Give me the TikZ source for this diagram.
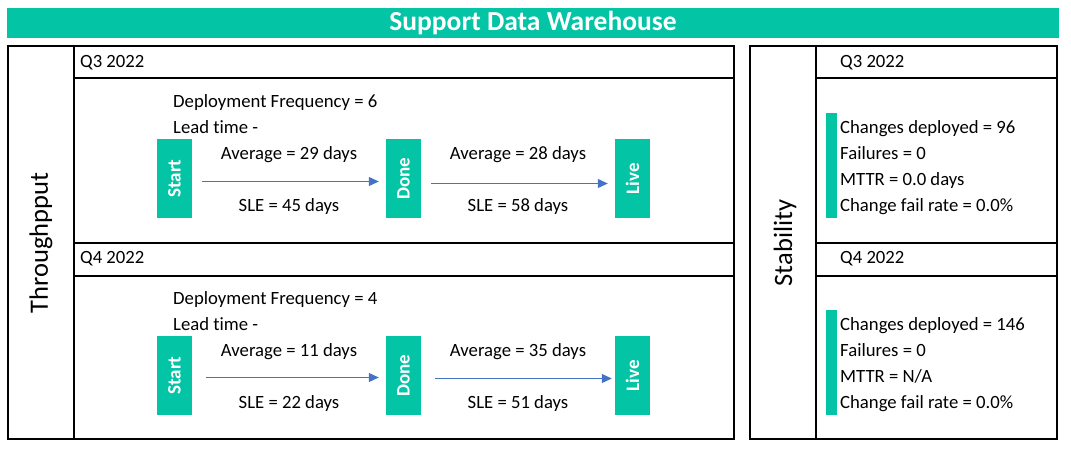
\documentclass[tikz,border=0pt]{standalone}
\usepackage{fontspec}
\setmainfont{Carlito}[Ligatures={NoCommon}]
\usetikzlibrary{arrows.meta,positioning,calc}
\definecolor{tealfill}{HTML}{04C4A6}
\definecolor{flowblue}{HTML}{4472C4}

\begin{document}
\begin{tikzpicture}[
    x=1pt, y=-1pt,
    frame/.style={draw=black, line width=2pt},
    txt/.style={font=\fontsize{18.7}{22}\selectfont, inner sep=0pt, anchor=base west},
    midtxt/.style={txt, anchor=base},
    sidelabel/.style={font=\fontsize{26.5}{30}\selectfont, inner sep=0pt, rotate=90},
    stagebox/.style={
        rectangle, fill=tealfill, inner sep=0pt,
        minimum width=79pt, minimum height=35pt,
        text=white, font=\fontsize{19}{22}\selectfont\bfseries,
        rotate=90,
    },
    barbox/.style={rectangle, fill=tealfill, inner sep=0pt, minimum width=11pt},
    flow/.style={-{Triangle[length=10pt,width=9pt]}, line width=1pt, color=flowblue,
        shorten <=10pt, shorten >=7pt},
]

\useasboundingbox (0,0) rectangle (1071,450);

% Title bar
\node[fill=tealfill, minimum width=1052pt, minimum height=30pt, inner sep=0pt,
      text=white, font=\fontsize{27.5}{30}\selectfont\bfseries] (title) at (533,23)
    {Support Data Warehouse};

% Left panel: throughput grid
\draw[frame] (8,46) rectangle (734,439);
\draw[frame] (74,46) -- (74,439);
\draw[frame] (74,78) -- (734,78);
\draw[frame] (74,243) -- (734,243);
\draw[frame] (74,276) -- (734,276);

% Right panel: stability grid
\draw[frame] (750,46) rectangle (1057,439);
\draw[frame] (816,46) -- (816,439);
\draw[frame] (816,78) -- (1057,78);
\draw[frame] (816,243) -- (1057,243);
\draw[frame] (816,276) -- (1057,276);

% Side labels
\node[sidelabel] (thru) at (41,243) {Throughpput};
\node[sidelabel] (stab) at (785,243) {Stability};

% Q3 2022 -- throughput
\node[txt] (q3) at (80,67) {Q3 2022};
\node[txt] (freq3) at (173,107) {Deployment Frequency = 6};
\node[txt] (lead3) at (173,133) {Lead time -};

\node[stagebox] (start3) at (174.5,178.5) {Start};
\node[stagebox] (done3) at (403.5,178.5) {Done};
\node[stagebox] (live3) at (632.5,178.5) {Live};

\node[midtxt] (avg3a) at (289,159) {Average = 29 days};
\node[midtxt] (sle3a) at (289,211) {SLE = 45 days};
\node[midtxt] (avg3b) at (518,159) {Average = 28 days};
\node[midtxt] (sle3b) at (518,211) {SLE = 58 days};

\draw[flow] ([yshift=-3pt]start3.south) -- ([yshift=-3pt]done3.north);
\draw[flow] ([yshift=-5pt]done3.south) -- ([yshift=-5pt]live3.north);

% Q4 2022 -- throughput
\node[txt] (q4) at (80,263) {Q4 2022};
\node[txt] (freq4) at (173,304) {Deployment Frequency = 4};
\node[txt] (lead4) at (173,330) {Lead time -};

\node[stagebox] (start4) at (174.5,375.5) {Start};
\node[stagebox] (done4) at (403.5,375.5) {Done};
\node[stagebox] (live4) at (632.5,375.5) {Live};

\node[midtxt] (avg4a) at (289,356) {Average = 11 days};
\node[midtxt] (sle4a) at (289,408) {SLE = 22 days};
\node[midtxt] (avg4b) at (518,356) {Average = 35 days};
\node[midtxt] (sle4b) at (518,408) {SLE = 51 days};

\draw[flow, shorten <=14pt] ([yshift=-2pt]start4.south) -- ([yshift=-2pt]done4.north);
\draw[flow, shorten <=14pt, shorten >=3pt] ([yshift=-3pt]done4.south) -- ([yshift=-3pt]live4.north);

% Stability -- Q3 2022
\node[txt] (sq3) at (840,67) {Q3 2022};
\node[barbox, minimum height=105pt] (bar3) at (831.5,165.5) {};
\node[txt] (chg3) at (840,133) {Changes deployed = 96};
\node[txt] (fail3) at (840,159) {Failures = 0};
\node[txt] (mttr3) at (840,185) {MTTR = 0.0 days};
\node[txt] (cfr3) at (840,211) {Change fail rate = 0.0\%};

% Stability -- Q4 2022
\node[txt] (sq4) at (840,263) {Q4 2022};
\node[barbox, minimum height=105pt] (bar4) at (831.5,362.5) {};
\node[txt] (chg4) at (840,330) {Changes deployed = 146};
\node[txt] (fail4) at (840,356) {Failures = 0};
\node[txt] (mttr4) at (840,382) {MTTR = N/A};
\node[txt] (cfr4) at (840,408) {Change fail rate = 0.0\%};

\end{tikzpicture}
\end{document}
